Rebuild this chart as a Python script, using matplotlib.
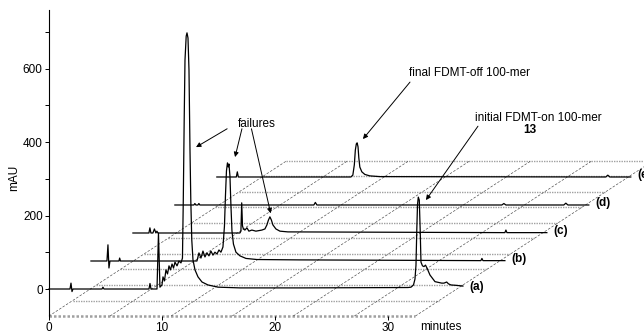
import matplotlib
matplotlib.use("Agg")
import matplotlib.pyplot as plt
import numpy as np

plt.rcParams['font.family'] = ['Liberation Sans', 'DejaVu Sans']
plt.rcParams['font.size'] = 8.5

# 크로마토그램 데이터 (분, mAU) - 각 트레이스 자체 기준선 기준
a_t = [0, 1.857, 1.945, 2.034, 2.122, 4.69, 4.77, 4.86, 8.84, 8.93, 9.02, 9.55, 9.68, 9.81,
       9.99, 10.08, 10.21, 10.34, 10.48, 10.61, 10.74, 10.88, 11.01, 11.14, 11.32, 11.49, 11.67, 11.80,
       11.874, 11.954, 12.025, 12.131, 12.202, 12.290, 12.378, 12.467, 12.538, 12.626, 12.732,
       12.909, 13.174, 13.528, 14.058, 14.943, 16.888, 22.19, 31.74,
       32.007, 32.228, 32.36, 32.449, 32.52, 32.582, 32.653, 32.741, 32.821, 32.891, 33.024,
       33.156, 33.289, 33.422, 33.687, 34.129, 34.72, 34.924, 35.163, 35.322, 35.544, 35.986, 36.6]
a_mau = [0, 0, 16, -7, 0, 0, 5, 0, 0, 15, 0, 0, 152, 5,
         11, 33, 22, 52, 41, 63, 52, 68, 57, 73, 63, 76, 71, 84,
         242, 460, 623, 688, 697, 683, 596, 378, 242, 133, 79,
         52, 33, 19, 11, 5, 3, 3, 4,
         5, 11, 27, 65, 160, 229, 250, 242, 160, 73, 63,
         61, 65, 57, 38, 20, 16, 16, 19, 14, 11, 10, 8]

b_t = [0, 1.415, 1.503, 1.592, 1.68, 2.476, 2.538, 2.608, 9.372, 9.549, 9.726, 9.903, 10.08,
       10.256, 10.433, 10.61, 10.787, 10.964, 11.141, 11.318, 11.494, 11.671, 11.804, 11.892,
       11.981, 12.069, 12.14, 12.202, 12.29, 12.378, 12.467, 12.599, 12.82, 13.174, 13.705,
       14.678, 18.39, 34.48, 34.57, 34.66, 36.6]
b_mau = [0, 0, 44, -19, 0, 0, 8, 0, 0, 22, 8, 27, 11,
         22, 14, 27, 16, 24, 19, 30, 24, 38, 95, 177,
         245, 267, 256, 264, 231, 150, 82, 46, 24, 14, 7,
         4, 3, 1, 7, 1, 1]

c_t = [0, 1.415, 1.503, 1.592, 1.768, 1.9, 2.034, 2.122, 2.21, 9.461, 9.549, 9.62, 9.69, 9.77,
       9.902, 10.08, 10.256, 10.52, 10.875, 11.406, 11.671, 11.848, 11.98, 12.113, 12.246,
       12.378, 12.644, 12.998, 13.705, 32.89, 32.98, 33.07, 36.6]
c_mau = [0, 0, 14, 0, 0, 11, 0, 5, 0, 0, 5, 82, 19, 11,
         8, 14, 5, 8, 5, 8, 11, 22, 35, 44, 35,
         22, 11, 5, 3, 1, 8, 1, 1]

d_t = [0, 1.68, 1.768, 1.856, 2.034, 2.122, 2.21, 12.29, 12.42, 12.56, 28.91, 29.09, 29.27,
       34.39, 34.57, 34.75, 36.6]
d_mau = [0, 0, 4, 0, 0, 4, 0, 0, 7, 0, 0, 4, 0, 0, 5, 0, 0]

e_t = [0, 1.724, 1.812, 1.9, 11.848, 12.025, 12.157, 12.246, 12.334, 12.405, 12.485, 12.555,
       12.644, 12.821, 13.086, 13.528, 14.41, 34.39, 34.57, 34.75, 36.6]
e_mau = [0, 0, 14, 0, 0, 5, 33, 73, 90, 93, 82, 52, 27, 14, 7, 3, 1, 0, 5, 0, 0]

trace_labels = ['(a)', '(b)', '(c)', '(d)', '(e)']
traces = [(a_t, a_mau), (b_t, b_mau), (c_t, c_mau), (d_t, d_mau), (e_t, e_mau)]

y_ticks = [0, 100, 200, 300, 400, 500, 600, 700]
y_ticklabels = ['0', '', '200', '', '400', '', '600', '']
x_ticks = [0, 10, 20, 30]

# 3D 원근 효과용 오프셋
step_x, step_y = 3.71, 76.2      # 트레이스 간 (분, mAU)
row_x, row_y = 2.1, 42.2          # 바닥 그리드 한 칸
floor_y0 = -73.5
floor_len = 32.4
n_rows, n_cols = 10, 6

fig = plt.figure(figsize=(6.44, 3.32), dpi=100, facecolor='white')
ax = fig.add_axes([0, 0, 1, 1])
ax.set_xlim(-4.332, 52.61)
ax.set_ylim(-117.0, 786.4)

# 바닥 그리드
for k in range(n_rows + 1):
    x0 = k * row_x
    y0 = floor_y0 + k * row_y
    ax.plot([x0, x0 + floor_len], [y0, y0], color='#a0a0a0',
            lw=1.8 if k == 0 else 1.0, ls=(0, (1, 0.8)), zorder=1)
for j in range(n_cols + 1):
    x0 = j * floor_len / n_cols
    ax.plot([x0, x0 + n_rows * row_x], [floor_y0, floor_y0 + n_rows * row_y],
            color='#444444', lw=0.45, ls=(0, (4, 2.5)), zorder=1)

# 트레이스
for k, ((t, m), lab) in enumerate(zip(traces, trace_labels)):
    t = np.array(t) + k * step_x
    m = np.array(m) + k * step_y
    ax.plot(t, m, color='black', lw=0.9, zorder=3)
    ax.text(t[-1] + 0.6, k * step_y + 6, lab, fontsize=8.5, weight='bold',
            ha='left', va='center', zorder=4)

# 축
for s in ['top', 'right', 'bottom']:
    ax.spines[s].set_visible(False)
ax.spines['left'].set_position(('data', 0))
ax.spines['left'].set_bounds(floor_y0, 759)
ax.spines['left'].set_linewidth(0.8)
ax.spines['bottom'].set_position(('data', floor_y0))
ax.set_yticks(y_ticks)
ax.set_yticklabels(y_ticklabels)
ax.set_xticks(x_ticks)
ax.tick_params(direction='out', length=3, width=0.7, pad=1.5, labelsize=8.5)
ax.set_ylabel('mAU', fontsize=8.5)
ax.yaxis.set_label_coords(0.032, 0.465)
ax.text(32.8, -103.5, 'minutes', fontsize=8.5, ha='left', va='center')

# 주석
arrow = dict(arrowstyle='-|>', color='black', lw=0.7, mutation_scale=7,
             shrinkA=0, shrinkB=0)
ax.text(18.39, 449, 'failures', fontsize=8.5, ha='center', va='center')
ax.annotate('', xy=(13.0, 386), xytext=(15.75, 436), arrowprops=arrow)
ax.annotate('', xy=(16.45, 359), xytext=(17.06, 436), arrowprops=arrow)
ax.annotate('', xy=(19.6, 206), xytext=(17.9, 436), arrowprops=arrow)

ax.text(37.14, 588, 'final FDMT-off 100-mer', fontsize=8.5, ha='center', va='center')
ax.annotate('', xy=(27.76, 408), xytext=(31.92, 563), arrowprops=arrow)

ax.text(43.3, 465, 'initial FDMT-on 100-mer', fontsize=8.5, ha='center', va='center')
ax.text(42.5, 432, '13', fontsize=8.5, weight='bold', ha='center', va='center')
ax.annotate('', xy=(33.33, 242), xytext=(37.93, 443), arrowprops=arrow)

plt.savefig('out.png', dpi=100, facecolor='white')
plt.close()
